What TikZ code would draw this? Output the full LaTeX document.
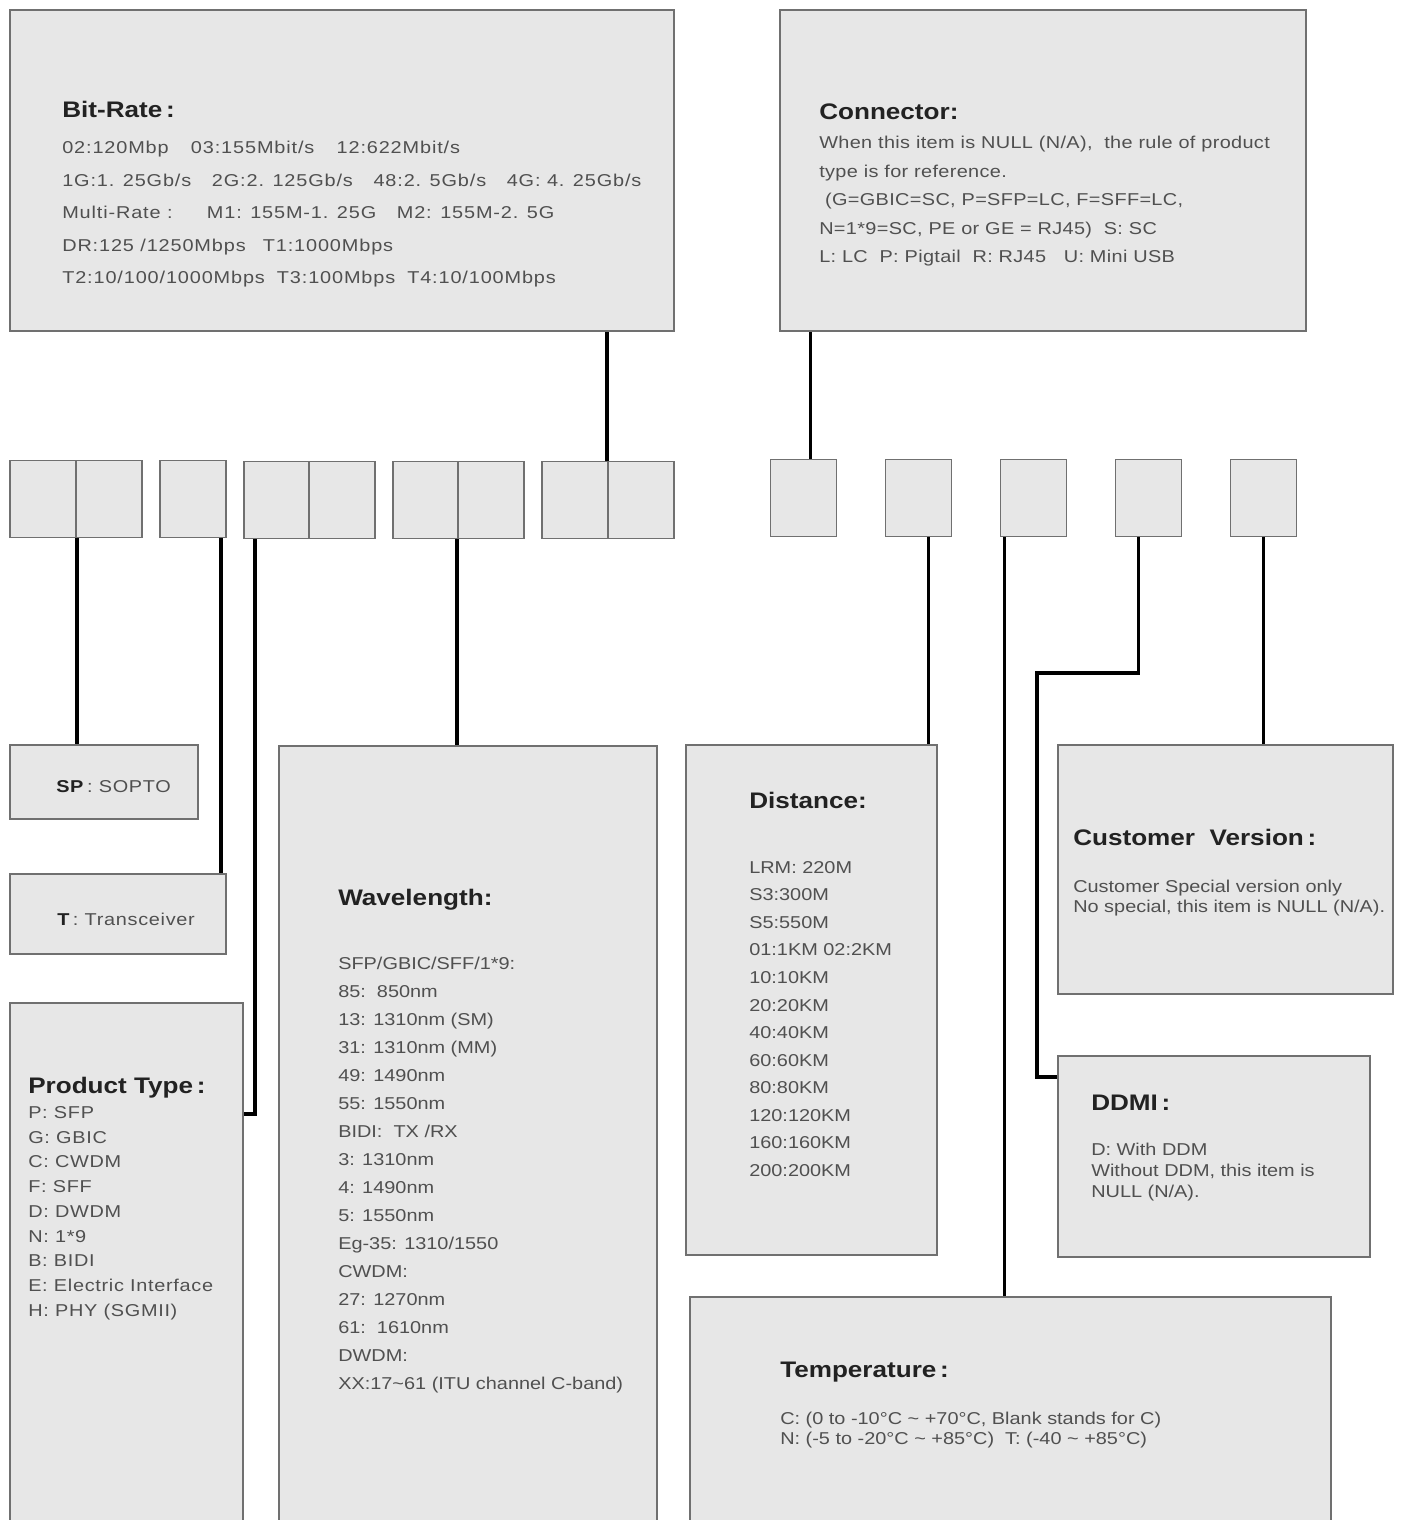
\documentclass[tikz,border=0pt]{standalone}
\usepackage{fontspec}
\setmainfont{Liberation Sans}[FakeStretch=1.16]
\usepackage{xcolor}
\usepackage{tikz}
\usetikzlibrary{positioning, calc}
\definecolor{boxfill}{RGB}{231,231,231}
\definecolor{boxline}{RGB}{112,112,112}
\definecolor{headtext}{RGB}{34,34,34}
\definecolor{bodytext}{RGB}{80,80,80}
\tikzset{
    box/.style={draw=boxline, fill=boxfill, line width=1.3pt, inner sep=0pt},
    sz/.style 2 args={minimum width=#1*0.025cm, minimum height=#2*0.025cm},
    cell/.style={box, sz={66}{77}},
    head/.style={anchor=base west, inner sep=0pt, text=headtext, font=\bfseries\fontsize{16}{19}\selectfont},
    body/.style={anchor=north west, inner sep=0pt, align=left, text=bodytext, font=\fontsize{12.2}{#1}\selectfont},
    wide/.style={font=\fontsize{12.2}{#1}\selectfont\addfontfeature{LetterSpace=4}},
    link/.style={line width=2.4pt, black}
}

\begin{document}
\begin{tikzpicture}[x=0.025cm, y=-0.025cm]
    \useasboundingbox (0,0) rectangle (1401,1520);
    \fill[white] (0,0) rectangle (1401,1520);
    \clip (0,0) rectangle (1401,1520);

    % Bit-Rate
    \node[box, sz={664}{321}] (br) at (342,170.5) {};
    \node[head] (brh) at (62,117) {Bit-Rate\,:};
    \node[body=23.1, font=\fontsize{12.2}{23.1}\selectfont\addfontfeature{LetterSpace=5}] (brb) at (62,141)
        {02:120Mbp\hspace{1.3em}03:155Mbit/s\hspace{1.3em}12:622Mbit/s\\
        1G:1. 25Gb/s\hspace{1.2em}2G:2. 125Gb/s\hspace{1.2em}48:2. 5Gb/s\hspace{1.2em}4G: 4. 25Gb/s\\
        Multi-Rate :\hspace{2em}M1: 155M-1. 25G\hspace{1.2em}M2: 155M-2. 5G\\
        DR:125 /1250Mbps\quad T1:1000Mbps\\
        T2:10/100/1000Mbps\hspace{0.7em}T3:100Mbps\hspace{0.7em}T4:10/100Mbps};

    % Connector
    \node[box, sz={526}{321}] (con) at (1043,170.5) {};
    \node[head] (conh) at (819,119) {Connector:};
    \node[body=20.3, font=\fontsize{12.2}{20.3}\selectfont\addfontfeature{LetterSpace=2}] (conb) at (819,136)
        {When this item is NULL (N/A),\ \ the rule of product\\
        type is for reference.\\
        \ (G=GBIC=SC, P=SFP=LC, F=SFF=LC,\\
        N=1*9=SC, PE or GE = RJ45)\ \ S: SC\\
        L: LC\ \ P: Pigtail\ \ R: RJ45\ \ \ U: Mini USB};

    % code cells
    \foreach \n/\x/\y in {c1/43/499, c2/109/499, c3/193/499, c4/277/500, c5/342/500,
        c6/426/500, c7/491/500, c8/575/500, c9/641/500, c10/803.5/498,
        c11/918.5/498, c12/1033.5/498, c13/1148.5/498, c14/1263.5/498}
        \node[cell] (\n) at (\x,\y) {};

    % SP
    \node[box, sz={188}{74}] (sp) at (104,782) {};
    \node[body, wide=15, anchor=base west] (spt) at (56,792) {\textcolor{headtext}{\textbf{SP}}\,:\ SOPTO};

    % Transceiver
    \node[box, sz={216}{80}] (tb) at (118,914) {};
    \node[body, wide=15, anchor=base west] (tbt) at (57,925) {\textcolor{headtext}{\textbf{T}}\,:\ Transceiver};

    % Product Type
    \node[box, sz={233}{527}] (pt) at (126.5,1266.5) {};
    \node[head] (pth) at (28,1093) {Product Type\,:};
    \node[body, wide=17.6] (ptb) at (28,1106) {P:\ SFP\\ G:\ GBIC\\ C:\ CWDM\\ F:\ SFF\\ D:\ DWDM\\
        N:\ 1*9\\ B:\ BIDI\\ E:\ Electric Interface\\ H:\ PHY (SGMII)};

    % Wavelength
    \node[box, sz={378}{784}] (wl) at (468,1138) {};
    \node[head] (wlh) at (338,905) {Wavelength:};
    \node[body=19.9] (wlb) at (338,957) {SFP/GBIC/SFF/1*9:\\ 85:\ \ 850nm\\ 13: 1310nm (SM)\\
        31: 1310nm (MM)\\ 49: 1490nm\\ 55: 1550nm\\ BIDI:\ \ TX /RX\\ 3: 1310nm\\
        4: 1490nm\\ 5: 1550nm\\ Eg-35: 1310/1550\\ CWDM:\\ 27: 1270nm\\ 61:\ \ 1610nm\\
        DWDM:\\ XX:17\textasciitilde 61 (ITU channel C-band)};

    % Distance
    \node[box, sz={251}{510}] (dist) at (811.5,1000) {};
    \node[head] (disth) at (749,808) {Distance:};
    \node[body=19.6] (distb) at (749,861) {LRM: 220M\\ S3:300M\\ S5:550M\\ 01:1KM 02:2KM\\
        10:10KM\\ 20:20KM\\ 40:40KM\\ 60:60KM\\ 80:80KM\\ 120:120KM\\ 160:160KM\\ 200:200KM};

    % Customer Version
    \node[box, sz={335}{249}] (cv) at (1225.5,869.5) {};
    \node[head] (cvh) at (1073,845) {Customer\ \ Version\,:};
    \node[body=14.2] (cvb) at (1073,880) {Customer Special version only\\
        No special, this item is NULL (N/A).};

    % DDMI
    \node[box, sz={312}{201}] (ddmi) at (1214,1156.5) {};
    \node[head] (ddh) at (1091,1110) {DDMI\,:};
    \node[body=14.9] (ddb) at (1091,1143) {D: With DDM\\ Without DDM, this item is\\ NULL (N/A).};

    % Temperature
    \node[box, sz={641}{233}] (tmp) at (1010.5,1413.5) {};
    \node[head] (tmh) at (780,1377) {Temperature\,:};
    \node[body=14.2] (tmb) at (780,1412) {C: (0 to -10°C \textasciitilde\ +70°C, Blank stands for C)\\
        N: (-5 to -20°C \textasciitilde\ +85°C)\ \ T: (-40 \textasciitilde\ +85°C)};

    % links
    \coordinate (k10) at ($(c10.north)+(7,0)$);
    \coordinate (k3) at ($(c3.south east)+(-6,0)$);
    \coordinate (k4) at ($(c4.south west)+(12,0)$);
    \coordinate (k4e) at ($(pt.north east)+(0,112)$);
    \coordinate (k11) at ($(c11.south)+(10,0)$);
    \coordinate (k12) at ($(c12.south west)+(5,0)$);
    \coordinate (k13) at ($(c13.south)+(-10,0)$);
    \coordinate (jog) at (1037,673);
    \coordinate (k13e) at ($(ddmi.north west)+(0,22)$);
    \draw[link] (c9.north west) -- (c9.north west |- br.south);
    \draw[link] (k10) -- (k10 |- con.south);
    \draw[link] (c1.south east) -- (c1.south east |- sp.north);
    \draw[link] (k3) -- (k3 |- tb.north);
    \draw[link] (k4) |- (k4e);
    \draw[link] (c7.south west) -- (c7.south west |- wl.north);
    \draw[link] (k11) -- (k11 |- dist.north);
    \draw[link] (k12) -- (k12 |- tmp.north);
    \draw[link] (k13) |- (jog) |- (k13e);
    \draw[link] (c14.south) -- (c14.south |- cv.north);
\end{tikzpicture}
\end{document}
